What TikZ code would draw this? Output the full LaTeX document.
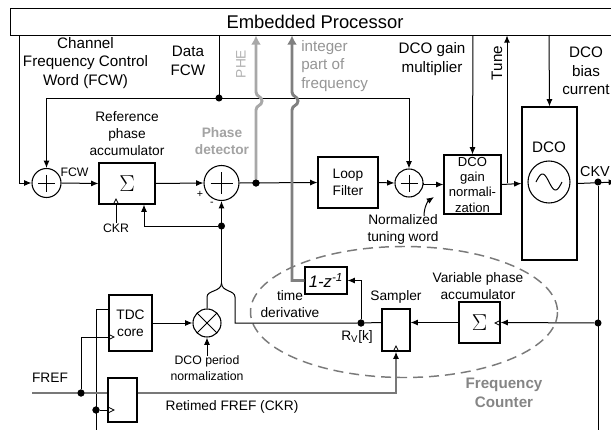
\documentclass[tikz,border=0pt]{standalone}
\usepackage{fontspec}
\setmainfont{Liberation Sans}
\usetikzlibrary{arrows.meta,calc}
\definecolor{pheC}{HTML}{A8A8A8}
\definecolor{pheT}{HTML}{B0B0B0}
\definecolor{intC}{HTML}{808080}
\definecolor{intT}{HTML}{959595}
\definecolor{pdT}{HTML}{A3A3A3}
\definecolor{fcT}{HTML}{858585}
\definecolor{ellC}{HTML}{7A7A7A}
\definecolor{frefC}{HTML}{787878}
\newcommand\fA{\fontsize{11.4}{13.9}\selectfont}
\newcommand\fB{\fontsize{10.3}{12.75}\selectfont}
\newcommand\fC{\fontsize{9.2}{11.6}\selectfont}
\newcommand\fP{\fontsize{13.8}{16}\selectfont}
\newcommand\fS{\fontsize{19}{19}\selectfont}
\tikzset{
  blk/.style={draw, line width=0.8pt, inner sep=0pt, align=center},
  rnd/.style={draw, circle, line width=0.8pt, inner sep=0pt},
  ln/.style={line width=0.75pt},
  arr/.style={line width=0.75pt, -{Latex[length=5.5pt,width=4.5pt]}},
  garr/.style={line width=2.2pt, -{Latex[length=7pt,width=7.5pt]}},
  jdot/.style={circle, fill, inner sep=0pt, minimum size=5.3pt},
  lbl/.style={inner sep=0pt, align=center},
  fref/.style={draw=frefC, line width=1.3pt},
}
\begin{document}
\begin{tikzpicture}[x=0.75pt,y=-0.75pt]
\useasboundingbox (0,0) rectangle (611,429);
\clip (0,0) rectangle (611,429);

% frequency counter ellipse
\draw[ellC, line width=1.1pt, dash pattern=on 7.5pt off 4.5pt] (404,312) ellipse [x radius=153.5, y radius=65.5];

% processor
\node[blk, minimum width=480pt, minimum height=20.25pt, anchor=north west] (proc) at (10,8) {};
\node[lbl, font=\fP] (proct) at (315,21.5) {Embedded Processor};

% coordinates on processor bottom edge
\coordinate (pL) at (19,35);
\coordinate (pData) at (219,35);
\coordinate (pPHE) at (256,35.4);
\coordinate (pInt) at (292,35.4);
\coordinate (pGain) at (473,35);
\coordinate (pTune) at (507,35.4);
\coordinate (pBias) at (549,35);

% blocks
\node[rnd, minimum size=21.75pt] (add1) at (46.5,183) {};
\node[blk, minimum width=42pt, minimum height=30.75pt] (refacc) at (127,183.5) {\fS$\Sigma$};
\node[rnd, minimum size=26.25pt] (pd) at (221.5,183) {};
\node[blk, minimum width=45pt, minimum height=38.25pt, font=\fB] (lf) at (348,182.5) {Loop\\Filter};
\node[rnd, minimum size=21pt] (add2) at (409,183) {};
\node[blk, minimum width=42.75pt, minimum height=44.25pt, font=\fontsize{9.8}{11.5}\selectfont] (gn) at (472.5,184.5) {DCO\\gain\\normali-\\zation};
\node[blk, minimum width=41.25pt, minimum height=114.75pt] (dco) at (549.5,183.5) {};
\node[rnd, minimum size=31.5pt] (osc) at (549,182) {};
\node[lbl, font=\fA] (dcot) at (549,147) {DCO};

\node[blk, minimum width=32.25pt, minimum height=42pt, font=\fB] (tdc) at (130.5,323) {TDC\\core};
\node[rnd, minimum size=21pt] (mul) at (207,323) {};
\node[blk, minimum width=21.75pt, minimum height=33pt] (ret) at (122.5,400) {};
\node[blk, minimum width=31.5pt, minimum height=20.25pt, font=\fontsize{12.5}{12.5}\selectfont\itshape] (zb) at (326,280.5) {1-z\textsuperscript{-1}};
\node[blk, minimum width=21pt, minimum height=31.5pt] (samp) at (396,330) {};
\node[blk, minimum width=30.75pt, minimum height=30.75pt] (vacc) at (479.5,322.5) {\fS$\Sigma$};

% plus / times signs
\foreach \n/\r in {add1/8.5, pd/11, add2/8.5}{
  \draw[ln] ($(\n)+(-\r,0)$) -- ($(\n)+(\r,0)$);
  \draw[ln] ($(\n)+(0,-\r)$) -- ($(\n)+(0,\r)$);
}
\draw[ln] ($(mul)+(-9.9,-9.9)$) -- ($(mul)+(9.9,9.9)$);
\draw[ln] ($(mul)+(-9.9,9.9)$) -- ($(mul)+(9.9,-9.9)$);
% sine
\draw[ln] plot[domain=-13:13, samples=40, smooth] ({549+\x},{182+8*sin(\x*180/13)});

% clock triangles
\draw[line width=0.6pt] (113.5,204) -- (116,199) -- (118.5,204);
\draw[line width=0.6pt] (109,334.5) -- (114,337) -- (109,339.5);
\draw[line width=0.6pt] (109,407.5) -- (114,410) -- (109,412.5);
\draw[line width=0.6pt] (393.5,351) -- (396,346) -- (398.5,351);
\draw[line width=0.6pt] (500,320.5) -- (495,323) -- (500,325.5);

% labels
\node[lbl, font=\fA] (chl) at (85.5,63) {Channel\\Frequency Control\\Word (FCW)};
\node[lbl, font=\fA] (dfl) at (188,61) {Data\\FCW};
\node[lbl, font=\fB, text=pheT, rotate=90] (phel) at (241,64) {PHE};
\node[lbl, font=\fA, text=intT, anchor=west, align=left] (intl) at (301,66) {integer\\part of\\frequency};
\node[lbl, font=\fA] (gml) at (432,59) {DCO gain\\multiplier};
\node[lbl, font=\fA, rotate=90] (tunel) at (497,63) {Tune};
\node[lbl, font=\fA] (biasl) at (586,71) {DCO\\bias\\current};
\node[lbl, font=\fB] (rpal) at (127,134) {Reference\\phase\\accumulator};
\node[lbl, font=\fB\bfseries, text=pdT] (pdl) at (222,141) {Phase\\detector};
\node[lbl, font=\fC] (fcwl) at (74.5,172) {FCW};
\node[lbl, font=\fC] (ckrl) at (116,228) {CKR};
\node[lbl, font=\fontsize{8}{8}\selectfont] (plusl) at (200,194) {+};
\node[lbl, font=\fontsize{8}{8}\selectfont] (minusl) at (212,204) {-};
\node[lbl, font=\fB] (ntw) at (403,229) {Normalized\\tuning word};
\node[lbl, font=\fontsize{10.8}{13}\selectfont] (ckvl) at (595,172) {CKV};
\node[lbl, font=\fB] (vpal) at (478,286) {Variable phase\\accumulator};
\node[lbl, font=\fB] (sampl) at (396,297) {Sampler};
\node[lbl, font=\fB] (rvl) at (357,337) {R\textsubscript{V}[k]};
\node[lbl, font=\fB] (tdl) at (290,304) {time\\derivative};
\node[lbl, font=\fA\bfseries, text=fcT] (fcl) at (504,393) {Frequency\\Counter};
\node[lbl, font=\fC] (dpnl) at (207,368) {DCO period\\normalization};
\node[lbl, font=\fB] (frefl) at (50,378) {FREF};
\node[lbl, font=\fB] (rfl) at (232,407) {Retimed FREF (CKR)};

% junctions
\coordinate (dfj) at (219,98);
\coordinate (fcwL) at (46.5,98);
\coordinate (fcwR) at (409,98);
\coordinate (lcorner) at (19,183);
\node[jdot] (phedot) at (256,183) {};
\coordinate (tunej) at (507,183);
\node[jdot] (ckvdot) at (598,182) {};
\coordinate (ckvout) at (616,182);
\coordinate (ckvbot) at (598,440);
\node[jdot] (vdot) at (598,323) {};
\node[jdot] (rvdot) at (361,323) {};
\coordinate (rvup) at (361,280.5);
\coordinate (rvleft) at (235,323);
\coordinate (mrg) at (221.5,283);
\node[jdot] (fbdot) at (221.5,226) {};
\coordinate (fbcorner) at (144,226);
\coordinate (intcorner) at (292,280.5);
\node[jdot] (frefdot) at (81,393) {};
\coordinate (frefin) at (32,393);
\coordinate (tdcclk) at (81,337);
\coordinate (ckvlt) at (96,309);
\coordinate (ckvlb) at (96,440);
\node[jdot] (ckvrdot) at (96,410) {};
\coordinate (sampcorner) at (396,393);
\coordinate (ntwtail) at (424,216);
\coordinate (ntwtip) at (434,197);

% top connections
\draw[arr] (pL) -- (lcorner) -- (add1.west);
\draw[ln] (pData) -- (dfj);
\draw[ln] (fcwL) -- (fcwR);
\draw[arr] (fcwL) -- (add1.north);
\draw[arr] (fcwR) -- (add2.north);
\node[jdot] at (dfj) {};
\draw[arr] (pGain) -- (gn.north);
\draw[arr] (pBias) -- (dco.north);
\draw[arr] (tunej) -- (pTune);

% forward path
\draw[arr] (add1.east) -- (refacc.west);
\draw[arr] (refacc.east) -- (pd.west);
\draw[arr] (pd.east) -- (lf.west);
\draw[arr] (lf.east) -- (add2.west);
\draw[arr] (add2.east) -- (gn.west -| add2.east) -- (gn.west);
\draw[arr] (gn.east) -- (dco.west);
\draw[arr] (dco.east) -- (ckvout);
\draw[ln] (ckvdot) -- (ckvbot);
\draw[arr] (ntwtail) .. controls (424,207) and (428,201) .. (ntwtip);

% PHE and integer gray lines
\draw[garr, pheC] (phedot) -- (256,110) .. controls (256,105) and (262,106) .. (262,101) .. controls (262,96) and (256,97) .. (256,92) -- (pPHE);
\draw[garr, intC] (zb.west) -- (intcorner) -- (292,110) .. controls (292,105) and (298,106) .. (298,101) .. controls (298,96) and (292,97) .. (292,92) -- (pInt);
\node[jdot] at (phedot) {};

% frequency counter
\draw[arr] (vdot) -- (vacc.east);
\draw[arr] (vacc.west) -- (vacc.west -| samp.east);
\draw[ln] (vacc.west -| samp.west) -- (rvdot) -- (rvleft) -- (235,297) .. controls (235,290) and (221.5,292) .. (mrg);
\draw[arr] (rvdot) -- (rvup) -- (zb.east);
\node[jdot] at (rvdot) {};

% phase detector feedback
\draw[ln] (mul.north) -- (207,297) .. controls (207,290) and (221.5,292) .. (mrg);
\draw[arr] (mrg) -- (pd.south);
\draw[arr] (fbdot) -- (fbcorner) -- (fbcorner |- refacc.south);
\draw[ln] (116,204) -- (ckrl.north);

% TDC
\draw[arr] (tdc.east) -- (mul.west);
\draw[arr] (dpnl.north) -- (mul.south);
\draw[ln] (frefdot) -- (tdcclk) -- (tdcclk -| tdc.west);
\draw[ln] (ckvlb) -- (ckvlt) -- (ckvlt -| tdc.west);
\draw[ln] (ckvrdot) -- (ckvrdot -| ret.west);

% FREF
\draw[fref] (frefin) -- (frefin -| ret.west);
\draw[fref, -{Latex[length=5.5pt,width=4.5pt,color=black]}] (frefin -| ret.east) -- (sampcorner) -- (samp.south);
\node[jdot] at (frefdot) {};
\node[jdot] at (ckvrdot) {};
\end{tikzpicture}
\end{document}
